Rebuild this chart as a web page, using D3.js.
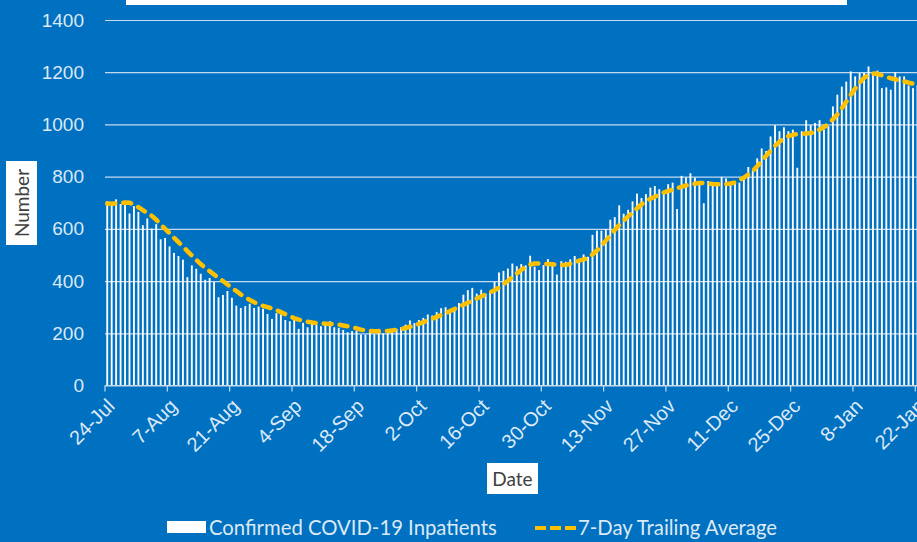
<!DOCTYPE html>
<html>
<head>
<meta charset="utf-8">
<script src="https://cdn.jsdelivr.net/npm/d3@7"></script>
<style>
  body { margin: 0; background: #0070c0; }
  svg { display: block; font-family: Lato, "Open Sans", sans-serif; }
</style>
</head>
<body>
<svg id="svg" width="917" height="542"></svg>
<script>
// daily confirmed inpatients, 24-Jul to 22-Jan
const inpatients = [
    706, 697, 713, 695, 691, 659, 687, 665, 614, 640, 601, 618, 560, 565, 533, 508, 496, 482, 415, 460,
    447, 428, 405, 412, 396, 338, 347, 362, 336, 306, 297, 304, 313, 297, 302, 294, 274, 255, 277, 272,
    251, 246, 255, 217, 240, 223, 245, 233, 227, 236, 246, 223, 221, 213, 204, 208, 210, 195, 195,
    210, 197, 217, 200, 210, 204, 217, 223, 233, 249, 239, 251, 259, 272, 268, 281, 296, 300, 287, 294,
    316, 348, 365, 374, 352, 367, 352, 362, 397, 433, 439, 448, 467, 457, 465, 460, 497, 455, 442, 461,
    484, 457, 425, 476, 474, 483, 496, 480, 502, 493, 577, 593, 593, 599, 635, 645, 690, 658, 673, 705,
    735, 718,
    733, 758, 764, 752, 745, 771, 777, 676, 803, 796, 813, 796, 777, 698, 783, 777, 777, 799, 793, 777,
    777, 777, 800, 837, 822, 870, 908, 898, 954, 997, 974, 989, 974, 980, 834, 974, 1016, 997, 1006, 1016,
    980, 993, 1069, 1114, 1145, 1164, 1203, 1184, 1197, 1197, 1222, 1197, 1206, 1139, 1142, 1133, 1200, 1184, 1184, 1149,
    1139, 1150
];

// 7-day trailing average as drawn
const trailingAvg = [
    697, 696, 697, 699, 701, 700, 693, 683, 672, 660, 650, 635, 617, 600, 583, 566, 549, 532, 515, 498,
    481, 465, 451, 438, 425, 412, 400, 387, 374, 362, 349, 338, 328, 319, 311, 305, 300, 295, 289, 281,
    273, 265, 258, 252, 248, 244, 241, 239, 238, 237, 236, 235, 233, 230, 227, 223, 219, 214, 211, 209,
    208, 208, 208, 209, 211, 213, 216, 220, 225, 230, 236, 243, 249, 256, 263, 270, 277, 285, 293, 301,
    309, 317, 325, 333, 341, 349, 357, 365, 375, 388, 401, 415, 429, 443, 455, 463, 467, 467, 466, 465,
    464, 462, 461, 462, 466, 472, 478, 483, 488, 502, 517, 535, 555, 575, 596, 615, 632, 648, 662, 678,
    694, 705, 715, 723, 731, 739, 745, 750, 756, 761, 766, 770, 773, 776, 776, 774, 772, 771, 771, 772,
    774, 778, 786, 796, 808, 822, 840, 860, 880, 899, 918, 934, 946, 955, 960, 963, 964, 965, 967, 971,
    980, 990, 1002, 1020, 1038, 1062, 1087, 1113, 1137, 1160, 1178, 1190, 1195, 1193, 1188, 1182, 1177, 1173, 1169, 1165,
    1160, 1156, 1162
];

const tickLabels = ["24-Jul", "7-Aug", "21-Aug", "4-Sep", "18-Sep", "2-Oct", "16-Oct",
    "30-Oct", "13-Nov", "27-Nov", "11-Dec", "25-Dec", "8-Jan", "22-Jan"];
const yTicks = [0, 200, 400, 600, 800, 1000, 1200, 1400];

const dates = d3.timeDay.range(new Date(2020, 6, 24), new Date(2021, 0, 23));
const fmt = d3.timeFormat("%-d-%b");

let svg = d3.select("#svg");
const width = 917;
const plotLeft = 105, plotTop = 20, plotBottom = 385.5;
const step = 4.452;

const gridColour = "#c3daef";
const labelColour = "#dce9f6";

let xScale = d3.scaleBand()
    .domain(d3.range(dates.length))
    .range([plotLeft, plotLeft + dates.length * step])
    .paddingInner(0.58)
    .paddingOuter(0.29);

let yScale = d3.scaleLinear()
    .domain([0, 1400])
    .range([plotBottom, plotTop]);

// title box, cut off at the top
svg.append("rect")
    .attr("x", 126).attr("y", -30)
    .attr("width", 721).attr("height", 35)
    .attr("fill", "white");

// y gridlines + labels
let yAxis = svg.append("g")
    .attr("transform", "translate(" + plotLeft + ",0)")
    .call(d3.axisLeft(yScale).tickValues(yTicks).tickFormat(d3.format("d"))
        .tickSize(-(width - plotLeft)).tickPadding(21));
yAxis.select(".domain").remove();
yAxis.selectAll("line").attr("stroke", gridColour).attr("stroke-width", 1.2);
yAxis.selectAll("text")
    .attr("fill", labelColour)
    .style("font-size", "19px");

// bars
svg.append("g").selectAll("rect")
    .data(inpatients)
    .enter().append("rect")
    .attr("x", (d, i) => xScale(i))
    .attr("y", d => yScale(d))
    .attr("width", xScale.bandwidth())
    .attr("height", d => plotBottom - yScale(d))
    .attr("fill", "#ffffff");

// x axis, ticks at category boundaries every 14 days
let tickIdx = d3.range(dates.length).filter(i => tickLabels.includes(fmt(dates[i])));
let xAxis = svg.append("g")
    .attr("transform", "translate(" + (-xScale.step() / 2) + "," + plotBottom + ")")
    .call(d3.axisBottom(xScale).tickValues(tickIdx).tickFormat(i => fmt(dates[i])).tickSize(6));
xAxis.select(".domain").remove();
xAxis.selectAll("line").attr("stroke", gridColour).attr("stroke-width", 1.2);
xAxis.selectAll("text")
    .attr("fill", labelColour)
    .style("font-size", "20px")
    .attr("text-anchor", "end")
    .attr("x", 0).attr("y", 0)
    .attr("dy", "0.35em")
    .attr("transform", "translate(6,17) rotate(-45)");

svg.append("line")
    .attr("x1", plotLeft).attr("x2", width)
    .attr("y1", plotBottom).attr("y2", plotBottom)
    .attr("stroke", gridColour).attr("stroke-width", 1.2);

// trailing average line
let line = d3.line()
    .x((d, i) => xScale(i) + xScale.bandwidth() / 2)
    .y(d => yScale(d));

svg.append("path")
    .datum(trailingAvg)
    .attr("d", line)
    .attr("fill", "none")
    .attr("stroke", "#ffc000")
    .attr("stroke-width", 4.5)
    .attr("stroke-linecap", "round")
    .attr("stroke-dasharray", "8 8");

// axis titles
svg.append("rect")
    .attr("x", 6).attr("y", 161).attr("width", 31).attr("height", 84)
    .attr("fill", "white");
svg.append("text")
    .attr("transform", "translate(22,203) rotate(-90)")
    .attr("text-anchor", "middle")
    .attr("dy", "0.35em")
    .attr("fill", "#404040")
    .style("font-size", "19px")
    .text("Number");

svg.append("rect")
    .attr("x", 487).attr("y", 463).attr("width", 51).attr("height", 31)
    .attr("fill", "white");
svg.append("text")
    .attr("x", 512.5).attr("y", 479)
    .attr("text-anchor", "middle")
    .attr("dy", "0.35em")
    .attr("fill", "#404040")
    .style("font-size", "19px")
    .text("Date");

// legend
let legend = svg.append("g");
legend.append("rect")
    .attr("x", 167).attr("y", 521).attr("width", 39).attr("height", 12)
    .attr("fill", "white");
legend.append("text")
    .attr("x", 209).attr("y", 528)
    .attr("dy", "0.35em")
    .attr("fill", labelColour)
    .style("font-size", "20.3px")
    .text("Confirmed COVID-19 Inpatients");
legend.append("line")
    .attr("x1", 535).attr("x2", 577)
    .attr("y1", 528).attr("y2", 528)
    .attr("stroke", "#ffc000")
    .attr("stroke-width", 4)
    .attr("stroke-dasharray", "11 4");
legend.append("text")
    .attr("x", 578).attr("y", 528)
    .attr("dy", "0.35em")
    .attr("fill", labelColour)
    .style("font-size", "20.3px")
    .text("7-Day Trailing Average");
</script>
</body>
</html>
